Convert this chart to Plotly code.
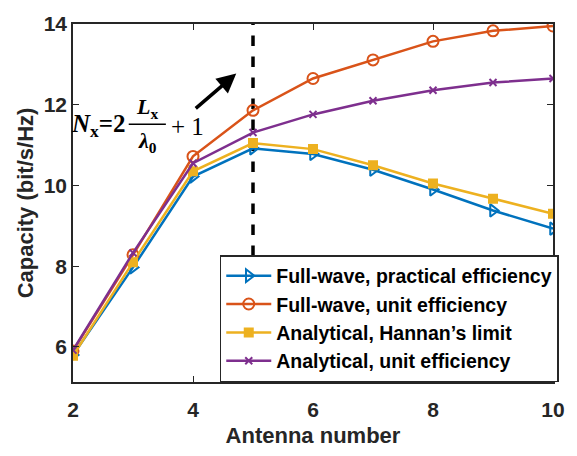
import plotly.graph_objects as go

antenna = [2, 3, 4, 5, 6, 7, 8, 9, 10]
fw_practical = [5.80, 7.97, 10.22, 10.92, 10.78, 10.39, 9.90, 9.38, 8.93]
fw_unit = [5.90, 8.28, 10.72, 11.86, 12.65, 13.11, 13.57, 13.83, 13.95]
an_hannan = [5.78, 8.10, 10.35, 11.05, 10.90, 10.50, 10.05, 9.67, 9.30]
an_unit = [5.92, 8.33, 10.55, 11.31, 11.76, 12.10, 12.36, 12.55, 12.65]
names = ["Full-wave, practical efficiency", "Full-wave, unit efficiency",
         "Analytical, Hannan\u2019s limit", "Analytical, unit efficiency"]
x_ticks = [2, 4, 6, 8, 10]
y_ticks = [6, 8, 10, 12, 14]
marker_x = 5

colors = ["#0072BD", "#D95319", "#EDB120", "#7E2F8E"]
symbols = ["triangle-right-open", "circle-open", "square", "x-thin-open"]
sizes = [11, 11, 8, 7]
series = [fw_practical, fw_unit, an_hannan, an_unit]

fig = go.Figure()
for ys, nm, c, s, sz in zip(series, names, colors, symbols, sizes):
    fig.add_trace(go.Scatter(
        x=antenna, y=ys, name=f"<b>{nm}</b>", mode="lines+markers",
        line=dict(color=c, width=2.5),
        marker=dict(symbol=s, size=sz, color=c, line=dict(color=c, width=2)),
    ))

L, R, T, B = 73, 13, 15, 73
W, H = 577, 456
pw, ph = W - L - R, H - T - B
def px(x):
    return (x - L) / pw
def py(y):
    return (H - B - y) / ph

fig.add_shape(type="line", xref="x", yref="paper", x0=marker_x, x1=marker_x,
              y0=0, y1=1, line=dict(color="black", width=3.5, dash="dash"), layer="below")

serif = "Liberation Serif"
fig.add_annotation(xref="paper", yref="paper", x=px(129), y=py(119), xanchor="right", yanchor="middle",
                   text="<b><i>N</i><sub>x</sub>=2</b>", showarrow=False,
                   font=dict(family=serif, size=25, color="black"))
fig.add_annotation(xref="paper", yref="paper", x=px(149), y=py(101), xanchor="center", yanchor="middle",
                   text="<b><i>L</i><sub>x</sub></b>", showarrow=False,
                   font=dict(family=serif, size=22, color="black"))
fig.add_annotation(xref="paper", yref="paper", x=px(149), y=py(136), xanchor="center", yanchor="middle",
                   text="<b><i>\u03bb</i><sub>0</sub></b>", showarrow=False,
                   font=dict(family=serif, size=22, color="black"))
fig.add_shape(type="line", xref="paper", yref="paper", x0=px(130), x1=px(168), y0=py(118), y1=py(118),
              line=dict(color="black", width=1.5))
fig.add_annotation(xref="paper", yref="paper", x=px(171), y=py(120), xanchor="left", yanchor="middle",
                   text="+ 1", showarrow=False,
                   font=dict(family=serif, size=25, color="black"))
fig.add_annotation(xref="paper", yref="paper", axref="pixel", ayref="pixel",
                   x=px(240), y=py(66), ax=-42, ay=36, text="", showarrow=True,
                   arrowhead=2, arrowsize=1.1, arrowwidth=3.5, arrowcolor="black")

sans = "Liberation Sans"
axis_common = dict(showline=True, linecolor="#262626", linewidth=1.5, mirror="ticks",
                   ticks="inside", ticklen=6, tickcolor="#262626", showgrid=False, zeroline=False,
                   tickfont=dict(family=sans, size=21, color="#262626"))
fig.update_xaxes(range=[2, 10], tickvals=x_ticks, ticktext=[f"<b>{v}</b>" for v in x_ticks],
                 ticklabelstandoff=8,
                 title=dict(text="<b>Antenna number</b>", font=dict(family=sans, size=22, color="#262626"), standoff=8),
                 **axis_common)
fig.update_yaxes(range=[5.13, 14], tickvals=y_ticks, ticktext=[f"<b>{v}</b>" for v in y_ticks],
                 title=dict(text="<b>Capacity (bit/s/Hz)</b>", font=dict(family=sans, size=22, color="#262626"), standoff=4),
                 **axis_common)

fig.update_layout(
    width=W, height=H, margin=dict(l=L, r=R, t=T, b=B),
    plot_bgcolor="white", paper_bgcolor="white",
    showlegend=True,
    legend=dict(x=1.012, y=0, xanchor="right", yanchor="bottom", bgcolor="white",
                bordercolor="#262626", borderwidth=1.5,
                font=dict(family=sans, size=19.5, color="black"),
                itemwidth=45, tracegroupgap=0),
)

fig.write_html("out.html")
